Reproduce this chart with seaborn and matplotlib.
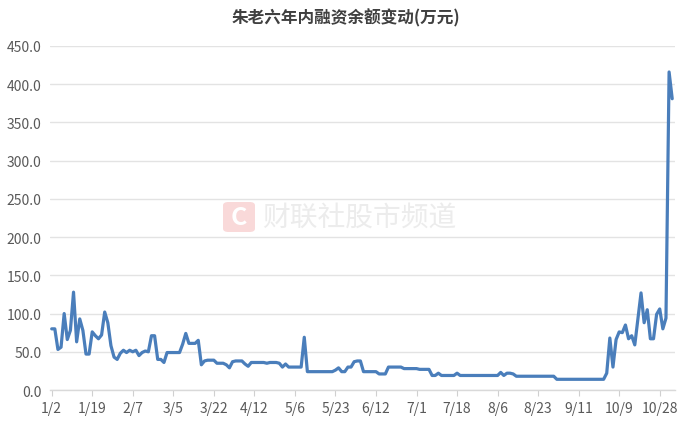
import matplotlib
matplotlib.use("Agg")
import matplotlib.pyplot as plt
from matplotlib.patches import FancyBboxPatch
import seaborn as sns
import pandas as pd
import numpy as np

# ---- data ----
title = "朱老六年内融资余额变动(万元)"
balance = [
    80, 80, 53, 56, 100, 66, 78, 128, 63, 93,
    78, 47, 47, 76, 71, 67, 72, 102, 88, 58,
    43, 40, 48, 52, 49, 52, 50, 52, 45, 49,
    51, 50, 71, 71, 40, 40, 36, 49, 49, 49,
    49, 49, 60, 74, 61, 61, 61, 65, 33, 38,
    39, 39, 39, 35, 35, 35, 33, 29, 37, 38,
    38, 38, 34, 31, 36, 36, 36, 36, 36, 35,
    36, 36, 36, 35, 30, 34, 30, 30, 30, 30,
    30, 69, 24, 24, 24, 24, 24, 24, 24, 24,
    24, 26, 29, 24, 24, 30, 30, 37, 38, 38,
    24, 24, 24, 24, 24, 21, 21, 21, 30, 30,
    30, 30, 30, 28, 28, 28, 28, 28, 27, 27,
    27, 27, 19, 19, 22, 19, 19, 19, 19, 19,
    22, 19, 19, 19, 19, 19, 19, 19, 19, 19,
    19, 19, 19, 19, 23, 19, 22, 22, 21, 18,
    18, 18, 18, 18, 18, 18, 18, 18, 18, 18,
    18, 18, 14, 14, 14, 14, 14, 14, 14, 14,
    14, 14, 14, 14, 14, 14, 14, 14, 22, 68,
    30, 66, 76, 75, 85, 67, 71, 59, 93, 127,
    88, 105, 67, 67, 99, 106, 80, 94, 416, 381,
]
tick_labels = ["1/2", "1/19", "2/7", "3/5", "3/22", "4/12", "5/6", "5/23",
               "6/12", "7/1", "7/18", "8/6", "8/23", "9/11", "10/9", "10/28"]
label_step = 13
y_ticks = [0, 50, 100, 150, 200, 250, 300, 350, 400, 450]
watermark = "财联社股市频道"

df = pd.DataFrame({"day": np.arange(len(balance)), "balance": balance})

sns.set_theme(style="white")
plt.rcParams["font.family"] = ["Noto Sans CJK SC", "DejaVu Sans"]

fig = plt.figure(figsize=(6.92, 4.27), dpi=100)
ax = fig.add_axes([0.072, 0.0843, 0.903, 0.8057])

sns.lineplot(data=df, x="day", y="balance", ax=ax, color="#4a7ebb",
             linewidth=2.3, zorder=3)

ax.set_xlim(-0.6, len(balance) - 0.2)
ax.set_ylim(0, 450)
ax.set_yticks(y_ticks)
ax.set_yticklabels([f"{v:.1f}" for v in y_ticks])
major_pos = [i * label_step for i in range(len(tick_labels))]
ax.set_xticks(major_pos)
ax.set_xticklabels(tick_labels)
ax.set_xticks(np.arange(0, len(balance), 3), minor=True)

ax.grid(axis="y", color="#e3e3e3", linewidth=1.0)
ax.set_axisbelow(True)
for s in ["left", "right", "top"]:
    ax.spines[s].set_visible(False)
ax.spines["bottom"].set_color("#d9d9d9")
ax.spines["bottom"].set_linewidth(1.0)

ax.tick_params(axis="y", length=0, labelsize=10, colors="#595959", pad=6)
ax.tick_params(axis="x", which="major", bottom=True, length=4, width=0.8,
               color="#d0d0d0", labelsize=10, labelcolor="#595959", pad=4)
ax.tick_params(axis="x", which="minor", length=4, width=0.8, color="#d0d0d0")
ax.set_xlabel("")
ax.set_ylabel("")

fig.text(0.5, 0.958, title, ha="center", va="center", fontsize=12,
         fontweight="bold", color="#404040")

# watermark
logo = FancyBboxPatch((223 / 692, 1 - 233 / 427), 32 / 692, 30 / 427,
                      boxstyle="round,pad=0.0,rounding_size=0.008",
                      transform=fig.transFigure, facecolor="#f9d9d9",
                      edgecolor="none", zorder=1)
fig.patches.append(logo)
fig.text(239 / 692, 1 - 218 / 427, "C", ha="center", va="center",
         fontsize=18, fontweight="bold", color="white", zorder=2)
fig.text(262 / 692, 1 - 218 / 427, watermark, ha="left", va="center",
         fontsize=20, color="#ececec", zorder=1)

fig.savefig("out.png", dpi=100)
